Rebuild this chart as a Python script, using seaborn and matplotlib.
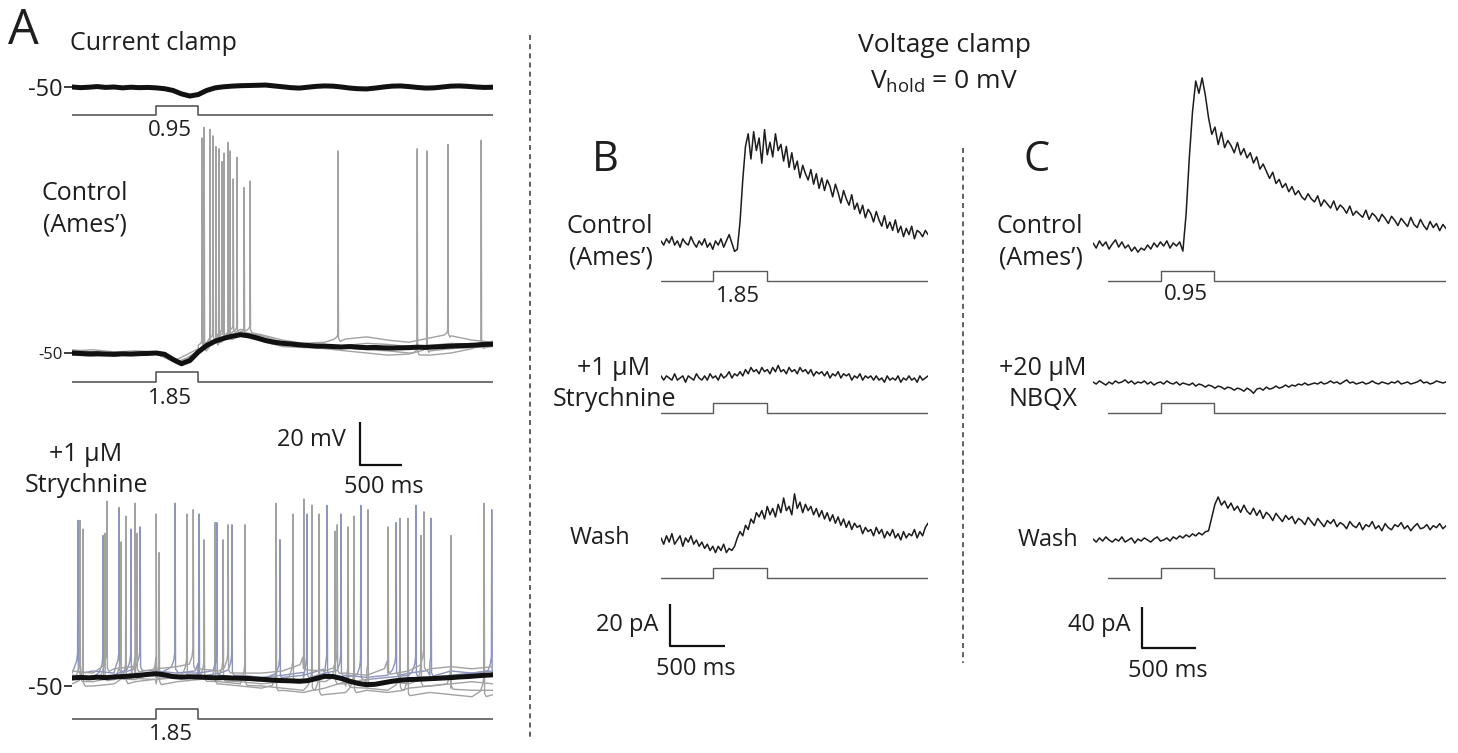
import numpy as np
import matplotlib.pyplot as plt
import seaborn as sns
from matplotlib.lines import Line2D

W, H = 1458, 753

# ---------------- Panel A : current clamp (ms, mV) ----------------
a_span = 5000
a_stim = (1000, 1500)
a_stim_labels = ["0.95", "1.85", "1.85"]

# averaged traces, one value every 100 ms
a_top_avg = [-50.0, -50.3, -50.1, -49.8, -50.2, -50.0, -50.4, -50.1, -50.3, -50.2,
             -50.4, -50.8, -51.6, -53.2, -54.2, -53.5, -51.6, -50.4, -49.9, -49.6,
             -49.4, -49.3, -49.2, -49.1, -49.5, -49.9, -50.3, -50.5, -50.1, -49.7,
             -49.5, -49.6, -50.0, -50.5, -50.8, -50.9, -50.5, -50.0, -49.6, -49.5,
             -49.8, -50.2, -50.5, -50.4, -50.0, -49.6, -49.5, -49.7, -50.0, -50.2, -50.1]
a_ctrl_avg = [-50.0, -50.2, -50.4, -50.3, -50.5, -50.6, -50.4, -50.5, -50.3, -50.2,
              -50.0, -50.6, -53.0, -55.0, -53.5, -49.5, -46.5, -44.5, -43.2, -42.2,
              -41.5, -42.0, -43.0, -44.2, -45.0, -45.5, -45.8, -46.2, -46.5, -46.8,
              -46.8, -47.0, -47.2, -47.0, -47.3, -47.5, -47.4, -47.6, -47.7, -47.6,
              -47.5, -47.3, -47.4, -47.2, -47.0, -46.8, -46.6, -46.5, -46.3, -46.0, -45.9]
a_stry_avg = [-46.3, -46.0, -46.2, -45.9, -46.1, -45.8, -45.6, -45.4, -45.0, -44.6,
              -44.3, -44.8, -45.6, -45.9, -45.7, -45.8, -46.0, -46.2, -46.1, -46.3,
              -46.4, -46.5, -46.8, -47.0, -47.3, -47.5, -47.6, -47.8, -47.5, -46.5,
              -45.5, -45.6, -46.5, -47.8, -48.8, -49.4, -49.2, -48.5, -47.8, -47.3,
              -47.0, -46.9, -46.7, -46.5, -46.3, -46.1, -45.8, -45.6, -45.3, -45.0, -44.8]

# individual sweeps (baseline every 250 ms) and their spikes (time ms, peak mV)
a_ctrl_sweeps = [
    [-49, -48.5, -49.5, -49, -49.5, -53, -48, -42, -39, -41.5, -44, -45.5, -45, -43.5, -42.5, -44, -45, -43, -42, -44, -45],
    [-51, -51.5, -51, -50.5, -50.5, -54.5, -50, -45, -40.5, -43, -46, -47, -48, -49, -50, -51, -50.5, -49, -48, -47.5, -47],
    [-48.5, -49.5, -50, -51, -50, -55, -49, -43, -40, -42, -45, -46, -46, -47.5, -48.5, -49, -50, -51, -50, -48, -46.5],
    [-50.5, -50, -51.5, -50, -50.5, -54, -50.5, -44.5, -42, -44.5, -47, -47.5, -47.5, -46.5, -45.5, -46, -47, -46.5, -45.5, -46, -44.5],
]
a_ctrl_spike_t = [[1545, 1675, 1780, 1915, 2115, 3160, 4465],
                  [1570, 1710, 1855, 2045, 4215],
                  [1640, 1805, 1960, 4100, 4860],
                  [1745, 1875]]
a_ctrl_spike_v = [[50, 51, 39, 31, 30, 44, 47],
                  [55, 46, 48, 27, 44],
                  [54, 43, 41, 45, 49],
                  [45, 44]]

a_stry_sweeps = [
    [-44, -43, -44, -42, -43, -44, -45, -44, -45, -46, -45, -46, -44, -45, -46, -45, -44, -45, -43, -44, -43],
    [-47, -48, -46, -47, -46, -45, -47, -48, -49, -50, -51, -52, -51, -50, -51, -52, -51, -50, -51, -52, -52],
    [-49, -50, -49, -48, -49, -48, -47, -49, -50, -51, -52, -53, -54, -53, -52, -53, -54, -53, -54, -55, -54],
    [-45, -46, -45, -44, -45, -43, -44, -45, -46, -47, -46, -45, -44, -46, -47, -46, -45, -46, -45, -44, -45],
    [-46, -47, -47, -46, -47, -46, -46, -47, -48, -49, -48, -47, -48, -49, -49, -48, -49, -50, -49, -48, -49],
    [-43, -44, -42, -43, -42, -41, -42, -43, -44, -44, -43, -42, -43, -44, -45, -44, -43, -42, -41, -42, -41],
]
a_stry_spike_t = [[70, 560, 810, 1510, 1900, 2790, 3195, 3850, 4265],
                  [95, 580, 1000, 1570, 2055, 2850, 3280, 3895, 4500],
                  [130, 640, 1035, 1700, 2425, 2935, 3350, 3990, 4895],
                  [370, 700, 1225, 1720, 2470, 3030, 3430, 4085, 4985],
                  [390, 750, 1365, 1795, 2625, 3125, 3515, 4145],
                  [415, 770, 1440, 1855, 2755, 3150, 3755, 4180]]
a_stry_spike_v = [[27, 33, 24, 30, 25, 30, 30, 26, 28],
                  [27, 17, 30, 18, 25, 34, 24, 28, 20],
                  [23, 29, 12, 26, 35, 30, 29, 28, 35],
                  [20, 23, 35, 26, 18, 34, 34, 34, 32],
                  [21, 35, 30, 18, 30, 22, 32, 20],
                  [36, 21, 32, 25, 37, 25, 24, 31]]
a_stry_colors = ["#8d94bd", "#a2a2a2", "#a2a2a2", "#8d94bd", "#a2a2a2", "#a2a2a2"]

# ---------------- Panel B : voltage clamp, strychnine (ms, pA) ----------------
b_span = 2450
b_stim = (475, 975)
b_stim_label = "1.85"
b_ctrl = [1, -1, 2, 0, 3, -1, 1, -2, 2, 0,
          -1, 3, 0, -2, 1, -1, 2, -2, 0, -3,
          1, -1, 2, -2, 1, 4, 0, -4, -3, 10,
          30, 46, 52, 40, 53, 44, 50, 38, 54, 42,
          48, 41, 52, 44, 47, 39, 46, 36, 43, 35,
          39, 31, 37, 33, 30, 35, 28, 33, 26, 31,
          25, 30, 27, 22, 28, 24, 19, 25, 21, 18,
          23, 16, 19, 14, 18, 12, 16, 14, 10, 15,
          11, 8, 13, 7, 10, 6, 11, 5, 8, 3,
          7, 4, 8, 2, 6, 5, 3, 6, 4]
b_stry = [1, -1, 1, 0, -1, 2, -1, 0, 1, -2,
          1, 0, -1, 2, 0, -1, 1, -1, 2, 0,
          1, -1, 2, 0, 1, 3, 0, 2, 1, 3,
          1, 4, 2, 5, 3, 4, 2, 5, 3, 4,
          2, 5, 3, 6, 3, 4, 2, 5, 3, 4,
          2, 5, 3, 4, 2, 4, 1, 3, 2, 3,
          1, 3, 0, 2, 1, 3, 0, 2, 1, 2,
          -1, 1, 0, 2, -1, 1, 0, 1, -1, 1,
          -1, 0, -2, 1, -1, 0, -1, 1, -2, 0,
          -1, 1, -1, 0, -2, 1, -1, 0, 1]
b_wash = [1, -2, 2, -1, 3, -2, 0, 2, -3, 1, -1, 2, -2,
          0, -3, -1, -4, -2, -5, -3, -6, -3, -5, -2, -6, -4, -5,
          -3, 1, 4, 2, 7, 5, 10, 8, 13, 11,
          14, 10, 16, 12, 15, 11, 17, 13, 20, 14, 16, 12, 22, 15, 18, 13, 17, 14, 16, 12,
          15, 11, 14, 10, 13, 9, 12, 8, 11, 7, 10, 6, 9, 5, 8, 6, 7, 3, 6, 4,
          5, 2, 6, 3, 5, 1, 4, 2, 5, 1, 3, 0, 4, 1, 3, 2, 5, 1, 4, 2, 6, 8]

# ---------------- Panel C : voltage clamp, NBQX (ms, pA) ----------------
c_span = 3300
c_stim = (635, 1135)
c_stim_start = 140
c_stim_label = "0.95"
c_ctrl = [2, -3, 4, -1, 3, -4, 1, 5, -2, 3, -3, 0, -6, -2, -7, -3, -5, 0, -4, 2,
          -2, 3, -1, 4, -3, 2, -1, 3, -6,
          30, 85, 130, 160, 148, 163, 146, 124, 108,
          115, 98, 110, 95, 102, 97, 90, 100, 88, 94,
          85, 90, 80, 86, 74, 79, 72, 65, 71, 60,
          64, 56, 60, 52, 57, 49, 53, 47, 44, 50,
          45, 42, 48, 38, 44, 40, 36, 43, 34, 39,
          36, 31, 38, 29, 33, 30, 27, 34, 25, 31,
          28, 23, 30, 26, 21, 28, 24, 19, 26, 22,
          18, 27, 20, 17, 25, 19, 15, 23, 17, 21,
          14, 20, 16]
c_nbqx = [1, -1, 2, 0, -2, 1, -1, 2, 0, 1, 3, 0, 2, -1, 1, 0, 2, -1, 1, -2,
          0, 1, -1, 2, 0, -1, 1, -2, 0, -1,
          -2, 0, -3, -1, -2, -4, -2, -3, -5, -3, -4, -6, -4, -5, -7, -5, -6, -8, -5, -7,
          -10, -6, -5, -7, -4, -6, -5, -3, -5, -4, -2,
          -4, -2, -3, -1, -2, 0, -2, -1, 0, -1, 1, -1, 0, 2, 0, 1, -1, 1, 3, 0,
          1, -1, 0, 1, -1, 0, 2, 0, -1, 1, 0, -1, 1, 0, 2, -1, 0, 1, -1, 0,
          1, 3, 0, 1, -1, 0, 2, 1, 0, 1]
c_wash = [1, -2, 2, -1, 3, 0, -2, 1, -1, 3, -2, 0, 2, -3, 1, -1, 2, 0, -2, 1,
          3, -1, 0, 2, -1, 3, 1, 4, 2, 5, 3, 6, 4, 7, 5, 8, 9,
          22, 35, 42, 34, 38, 31, 36, 29,
          33, 27, 34, 28, 25, 31, 24, 29, 21, 27,
          24, 19, 26, 22, 18, 24, 20, 23, 16, 21,
          19, 15, 22, 18, 14, 21, 17, 13, 19, 16,
          20, 13, 17, 15, 11, 18, 14, 12, 17, 10,
          15, 13, 18, 11, 14, 9, 16, 12, 10, 15,
          13, 17, 11, 14, 9, 13, 16, 11, 12, 15,
          10, 14, 12, 16, 11, 14]

# scale bars: (time ms, amplitude)
a_scale = (500, 20)
b_scale = (500, 20)
c_scale = (500, 40)

# ---------------- drawing ----------------
sns.set_style("white")
plt.rcParams["font.family"] = ["Open Sans", "DejaVu Sans"]
plt.rcParams["mathtext.fontset"] = "custom"
plt.rcParams["mathtext.rm"] = "Open Sans"

fig = plt.figure(figsize=(W / 100, H / 100), dpi=100)
TXT = "#1e1e1e"


def trace_axes(x0, x1, span, y_ref, v_ref, ppu, y_top, y_bot):
    """Axes placed in pixel coordinates, v_ref sits at pixel row y_ref."""
    ax = fig.add_axes([x0 / W, 1 - y_bot / H, (x1 - x0) / W, (y_bot - y_top) / H])
    ax.set_xlim(0, span)
    ax.set_ylim(v_ref - (y_bot - y_ref) / ppu, v_ref + (y_ref - y_top) / ppu)
    ax.set_frame_on(False)
    ax.set_xticks([])
    ax.set_yticks([])
    return ax


def draw(ax, t, v, color, lw, z=2):
    sns.lineplot(x=np.asarray(t, float), y=np.asarray(v, float), ax=ax, color=color,
                 linewidth=lw, estimator=None, sort=False, zorder=z,
                 solid_joinstyle="round", solid_capstyle="round")
    ax.set_xlabel("")
    ax.set_ylabel("")


def with_spikes(base, span, spike_t, spike_v, foot=(1.0, 5.0)):
    tb = np.linspace(0, span, len(base))
    t, v = list(tb), list(base)
    for ts, vp in zip(spike_t, spike_v):
        b = np.interp(ts, tb, base)
        t += [ts - 45, ts - 15, ts - 4, ts, ts + 5, ts + 25]
        v += [b + foot[0], b + foot[1] * 0.6, b + foot[1], vp, b + 1.0, b - 0.5]
    order = np.argsort(t, kind="stable")
    return np.array(t)[order], np.array(v)[order]


def stim(x0, x1, span, y_base, y_top, on, off, start=0, color="#4a4a4a", lw=1.1):
    ax = trace_axes(x0, x1, span, y_base, 0.0, y_base - y_top, y_top - 5, y_base + 5)
    draw(ax, [start, on, on, off, off, span], [0, 0, 1, 1, 0, 0], color, lw)
    ax.set_xlim(0, span)
    return ax


def minus50(ax, size):
    ax.set_yticks([-50])
    ax.set_yticklabels(["-50"], fontsize=size, color=TXT)
    ax.tick_params(axis="y", length=6, width=1.2, pad=1, colors=TXT, left=True)


def scalebar(ax, t0, v0, dt, dv):
    ax.plot([t0, t0, t0 + dt], [v0 + dv, v0, v0], color="#111111", lw=1.6,
            clip_on=False, solid_capstyle="butt")


def label(x, y, s, size, ha="center", **kw):
    fig.text(x / W, 1 - y / H, s, fontsize=size, ha=ha, va="center", color=TXT,
             linespacing=1.35, **kw)


# Panel A
AX0, AX1 = 72, 493
ax = trace_axes(AX0, AX1, a_span, 87, -50, 2.15, 60, 102)
draw(ax, np.linspace(0, a_span, len(a_top_avg)), a_top_avg, "#111111", 3.6, 5)
ax.set_xlim(0, a_span)
minus50(ax, 17)
stim(AX0, AX1, a_span, 115, 106, *a_stim)

ax = trace_axes(AX0, AX1, a_span, 353, -50, 2.15, 110, 372)
for base, st, sv in zip(a_ctrl_sweeps, a_ctrl_spike_t, a_ctrl_spike_v):
    t, v = with_spikes(base, a_span, st, sv, foot=(0.5, 2.5))
    draw(ax, t, v, "#a2a2a2", 1.0, 2)
draw(ax, np.linspace(0, a_span, len(a_ctrl_avg)), a_ctrl_avg, "#111111", 3.6, 5)
ax.set_xlim(0, a_span)
minus50(ax, 12)
stim(AX0, AX1, a_span, 382, 372, *a_stim)

ax = trace_axes(AX0, AX1, a_span, 686, -50, 2.15, 415, 702)
for base, st, sv, col in zip(a_stry_sweeps, a_stry_spike_t, a_stry_spike_v, a_stry_colors):
    t, v = with_spikes(base, a_span, st, sv, foot=(2.0, 9.0))
    draw(ax, t, v, col, 1.0, 2)
draw(ax, np.linspace(0, a_span, len(a_stry_avg)), a_stry_avg, "#111111", 3.6, 5)
ax.set_xlim(0, a_span)
minus50(ax, 17)
scalebar(ax, 3420, -50 + (686 - 465) / 2.15, *a_scale)
stim(AX0, AX1, a_span, 719, 709, *a_stim)

# Panel B
BX0 = 661
BX1 = BX0 + 0.109 * b_span
for trace, yref, ytop, ybot, sb, st in [(b_ctrl, 243, 115, 262, 281, 271),
                                        (b_stry, 378, 355, 395, 413, 403),
                                        (b_wash, 540, 480, 560, 578, 568)]:
    ax = trace_axes(BX0, BX1, b_span, yref, 0, 2.1, ytop, ybot)
    draw(ax, np.linspace(0, b_span, len(trace)), trace, "#1c1c1c", 1.1)
    ax.set_xlim(0, b_span)
    stim(BX0, BX1, b_span, sb, st, *b_stim, color="#5a5a5a", lw=1.0)
scalebar(ax, (670 - BX0) / 0.109, (540 - 646) / 2.1, *b_scale)

# Panel C
CX0 = 1093
CX1 = CX0 + 0.107 * c_span
for trace, yref, ytop, ybot, sb, st in [(c_ctrl, 245, 60, 262, 281, 271),
                                        (c_nbqx, 383, 360, 400, 413, 403),
                                        (c_wash, 540, 480, 560, 578, 568)]:
    ax = trace_axes(CX0, CX1, c_span, yref, 0, 1.025, ytop, ybot)
    draw(ax, np.linspace(0, c_span, len(trace)), trace, "#1c1c1c", 1.1)
    ax.set_xlim(0, c_span)
    stim(CX0, CX1, c_span, sb, st, *c_stim, start=c_stim_start, color="#5a5a5a", lw=1.0)
scalebar(ax, (1142 - CX0) / 0.107, (540 - 648) / 1.025, *c_scale)

# dashed separators
for x, y0, y1 in [(530, 35, 740), (963, 148, 663)]:
    fig.add_artist(Line2D([x / W, x / W], [1 - y0 / H, 1 - y1 / H], color="#444444",
                          lw=1.2, linestyle=(0, (3, 2.5))))

# text
label(23, 31, "A", 35)
label(70, 43, "Current clamp", 18, ha="left")
label(85, 209, "Control\n(Ames’)", 18)
label(86, 470, "+1 µM\nStrychnine", 18)
label(170, 130, a_stim_labels[0], 16)
label(170, 398, a_stim_labels[1], 16)
label(171, 735, a_stim_labels[2], 16)
label(346, 440, f"{a_scale[1]} mV", 17, ha="right")
label(384, 487, f"{a_scale[0]} ms", 17)

label(945, 45, "Voltage clamp", 19)
label(944, 82, r"V$_{\mathrm{hold}}$ = 0 mV", 19)

label(605, 160, "B", 30)
label(653, 242, "Control\n(Ames’)", 18, ha="right")
label(738, 297, b_stim_label, 16)
label(614, 384, "+1 µM\nStrychnine", 18)
label(600, 538, "Wash", 17)
label(659, 625, f"{b_scale[1]} pA", 17, ha="right")
label(696, 669, f"{b_scale[0]} ms", 17)

label(1037, 160, "C", 30)
label(1083, 242, "Control\n(Ames’)", 18, ha="right")
label(1186, 295, c_stim_label, 16)
label(1043, 384, "+20 µM\nNBQX", 18)
label(1048, 540, "Wash", 17)
label(1131, 625, f"{c_scale[1]} pA", 17, ha="right")
label(1168, 671, f"{c_scale[0]} ms", 17)

fig.savefig("out.png", dpi=100)
